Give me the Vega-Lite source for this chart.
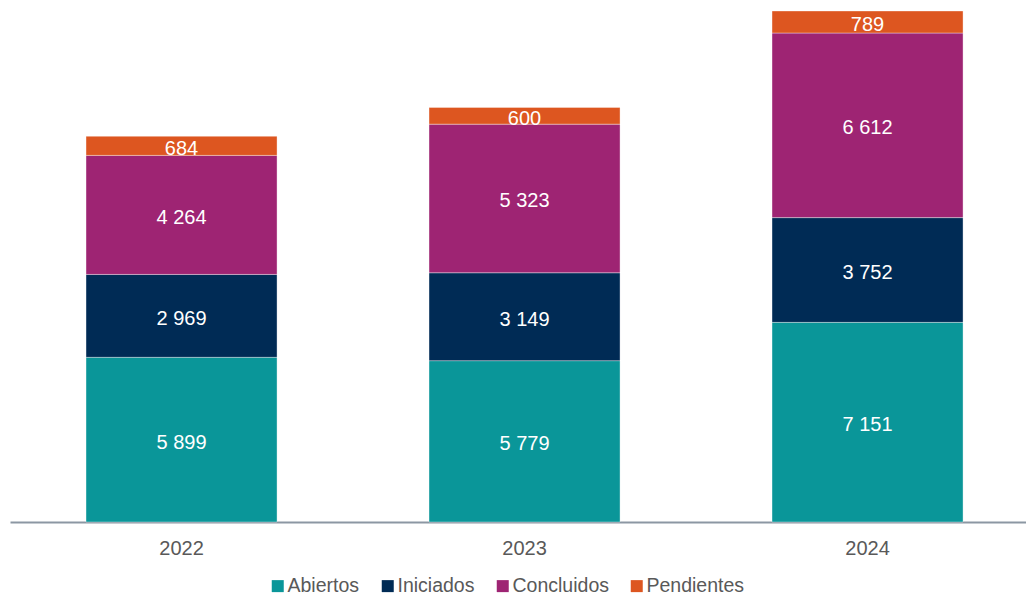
{
  "$schema": "https://vega.github.io/schema/vega-lite/v6.json",
  "width": 1016,
  "height": 522,
  "autosize": {"type": "none"},
  "padding": {"left": 10, "top": 0, "right": 0, "bottom": 74},
  "background": "#ffffff",
  "config": {
    "view": {"stroke": null},
    "font": "Liberation Sans",
    "locale": {"number": {"decimal": ",", "thousands": " ", "grouping": [3], "currency": ["", " €"]}}
  },
  "data": {
    "values": [
      {"anio": "2022", "estado": "Abiertos", "orden": 1, "valor": 5899},
      {"anio": "2022", "estado": "Iniciados", "orden": 2, "valor": 2969},
      {"anio": "2022", "estado": "Concluidos", "orden": 3, "valor": 4264},
      {"anio": "2022", "estado": "Pendientes", "orden": 4, "valor": 684},
      {"anio": "2023", "estado": "Abiertos", "orden": 1, "valor": 5779},
      {"anio": "2023", "estado": "Iniciados", "orden": 2, "valor": 3149},
      {"anio": "2023", "estado": "Concluidos", "orden": 3, "valor": 5323},
      {"anio": "2023", "estado": "Pendientes", "orden": 4, "valor": 600},
      {"anio": "2024", "estado": "Abiertos", "orden": 1, "valor": 7151},
      {"anio": "2024", "estado": "Iniciados", "orden": 2, "valor": 3752},
      {"anio": "2024", "estado": "Concluidos", "orden": 3, "valor": 6612},
      {"anio": "2024", "estado": "Pendientes", "orden": 4, "valor": 789}
    ]
  },
  "encoding": {
    "x": {
      "field": "anio", "type": "nominal", "title": null,
      "scale": {"paddingInner": 0.4431, "paddingOuter": 0.2026, "align": 0.547},
      "axis": {
        "labelAngle": 0, "labelFontSize": 20, "labelColor": "#595959",
        "ticks": false, "domainColor": "#8C97A3", "domainWidth": 2,
        "labelPadding": 16, "grid": false
      }
    },
    "y": {
      "field": "valor", "type": "quantitative", "stack": "zero",
      "scale": {"domain": [0, 18698], "nice": false, "zero": true},
      "axis": null
    },
    "order": {"field": "orden", "type": "quantitative", "sort": "ascending"}
  },
  "layer": [
    {
      "mark": {"type": "bar", "stroke": "#ffffff", "strokeWidth": 0.6, "strokeOpacity": 0.6},
      "encoding": {
        "color": {
          "field": "estado", "type": "nominal", "title": null,
          "sort": ["Abiertos", "Iniciados", "Concluidos", "Pendientes"],
          "scale": {
            "domain": ["Abiertos", "Iniciados", "Concluidos", "Pendientes"],
            "range": ["#0A9699", "#002B55", "#9E2473", "#DD5620"]
          },
          "legend": {
            "orient": "none", "direction": "horizontal",
            "legendX": 258, "legendY": 576, "padding": 0,
            "labelFontSize": 19.5, "labelColor": "#595959",
            "symbolType": "square", "symbolSize": 144, "symbolStrokeWidth": 0,
            "labelOffset": 0, "columnPadding": 18
          }
        }
      }
    },
    {
      "mark": {"type": "text", "color": "#ffffff", "fontSize": 20, "baseline": "middle", "align": "center", "dy": 3},
      "encoding": {
        "y": {"field": "valor", "type": "quantitative", "stack": "zero", "bandPosition": 0.5},
        "text": {"field": "valor", "type": "quantitative", "format": ",d"}
      }
    }
  ]
}
